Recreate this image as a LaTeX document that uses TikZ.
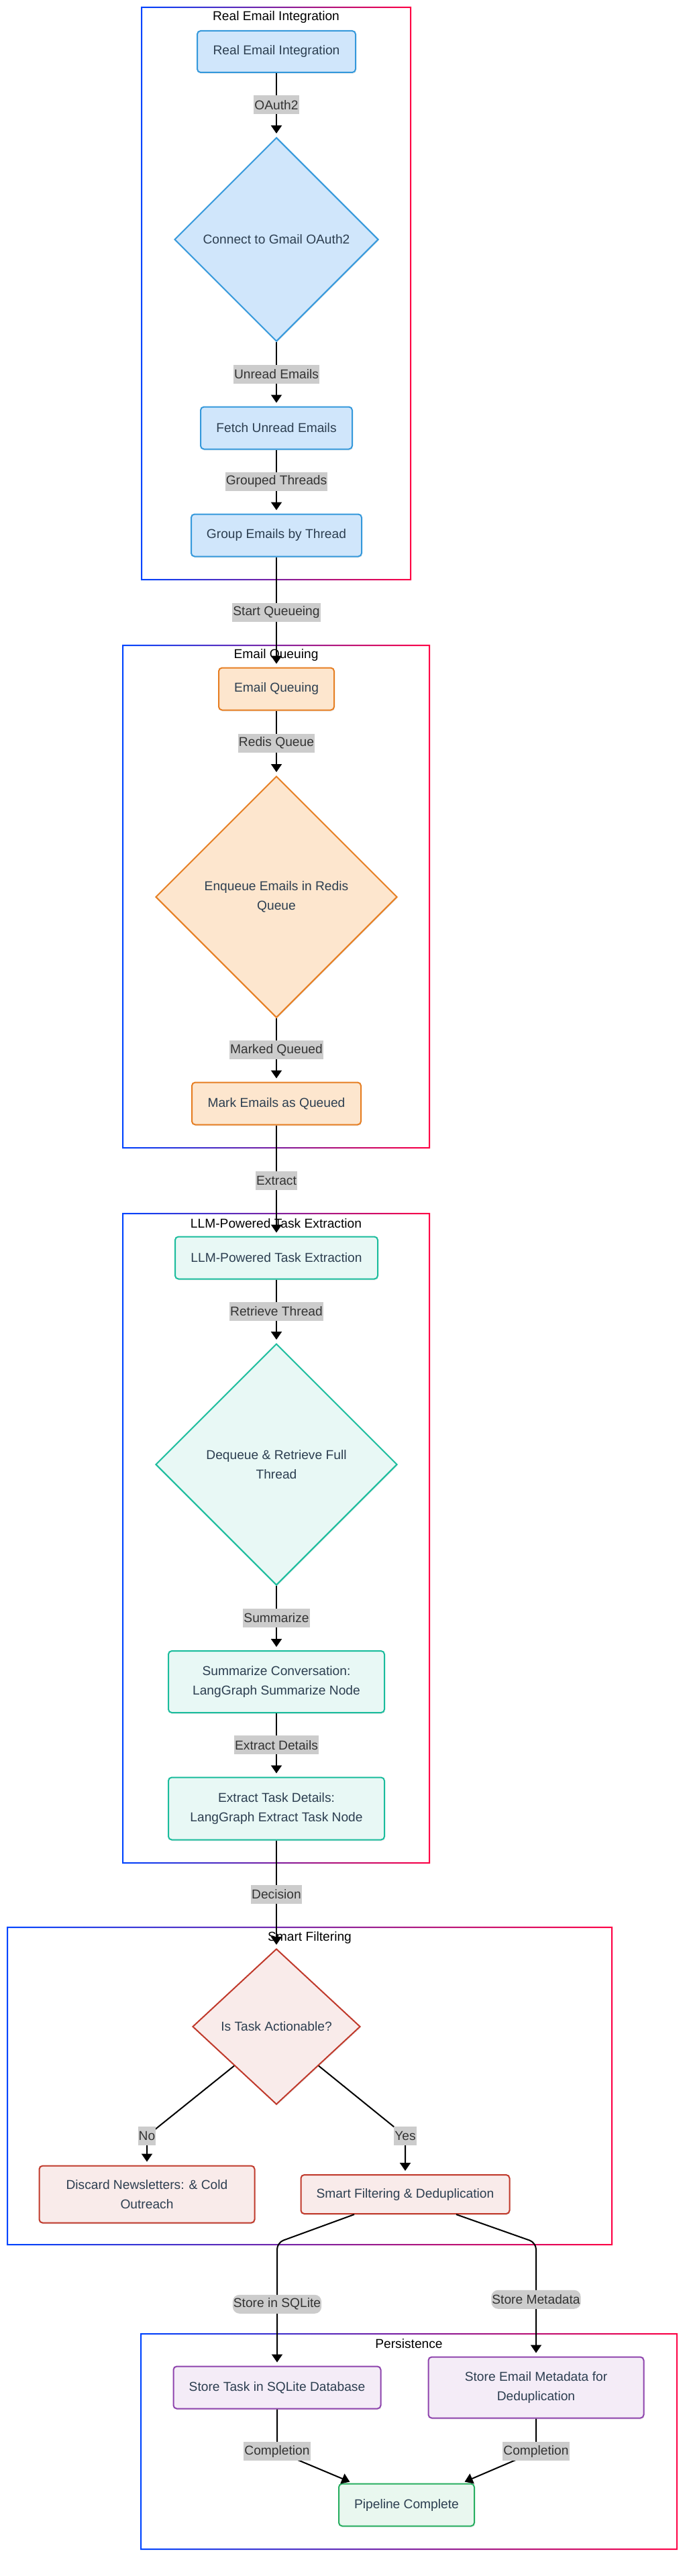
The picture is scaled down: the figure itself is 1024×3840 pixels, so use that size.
\documentclass[tikz,border=0pt]{standalone}
\usepackage{fontspec}
\setmainfont{Liberation Sans}
\usetikzlibrary{arrows.meta,shapes.geometric,shadows}

\definecolor{intakefill}{HTML}{D0E6FB}
\definecolor{intakeline}{HTML}{3498DB}
\definecolor{queuefill}{HTML}{FDE6CE}
\definecolor{queueline}{HTML}{E67E22}
\definecolor{llmfill}{HTML}{E8F8F5}
\definecolor{llmline}{HTML}{1ABC9C}
\definecolor{filterfill}{HTML}{F9EBEA}
\definecolor{filterline}{HTML}{C0392B}
\definecolor{storefill}{HTML}{F4ECF7}
\definecolor{storeline}{HTML}{8E44AD}
\definecolor{donefill}{HTML}{E9F7EF}
\definecolor{doneline}{HTML}{27AE60}
\definecolor{nodeink}{HTML}{2C3E50}
\definecolor{lblgray}{HTML}{CCCCCC}
\definecolor{lblink}{HTML}{333333}
\definecolor{frameblue}{HTML}{0044FF}
\definecolor{framered}{HTML}{FF0044}

\newcommand{\nodefont}{\fontsize{19.2}{29}\selectfont}

% gradient frame + title of one stage
\newcommand{\clusterframe}[5]{%
  \shade[left color=frameblue, right color=framered, even odd rule]
    (#1-1,#2-1) rectangle (#3+1,#4+1) (#1+1,#2+1) rectangle (#3-1,#4-1);
  \node[clustertitle] at ({(#1+#3)/2},#2+15) {#5};
}

\tikzset{
  procbox/.style={rectangle, rounded corners=5pt, draw, line width=2pt, inner sep=0pt,
    align=center, text=nodeink, font=\nodefont,
    drop shadow={opacity=0.12, shadow xshift=1pt, shadow yshift=-2pt}},
  decision/.style={diamond, draw, line width=2pt, inner sep=0pt,
    align=center, text=nodeink, font=\nodefont,
    drop shadow={opacity=0.12, shadow xshift=1pt, shadow yshift=-2pt}},
  intake/.style={fill=intakefill, draw=intakeline},
  queueing/.style={fill=queuefill, draw=queueline},
  extraction/.style={fill=llmfill, draw=llmline},
  filtering/.style={fill=filterfill, draw=filterline},
  storing/.style={fill=storefill, draw=storeline},
  finish/.style={fill=donefill, draw=doneline},
  flow/.style={line width=2pt, draw=black, -{Triangle[width=16pt,length=12pt]}, shorten >=5pt},
  lbl/.style={fill=lblgray, text=lblink, font=\nodefont, inner xsep=1pt, inner ysep=0pt,
    minimum height=28pt},
  clustertitle/.style={font=\nodefont, text=black}
}

\begin{document}
\begin{tikzpicture}[x=1pt,y=-1pt]
\fill[white] (0,0) rectangle (1024,3840);
\useasboundingbox (0,0) rectangle (1024,3840);

% stage frames
\clusterframe{211}{11}{612}{864}{Real Email Integration}
\clusterframe{183}{962}{640}{1711}{Email Queuing}
\clusterframe{183}{1809}{640}{2777}{LLM-Powered Task Extraction}
\clusterframe{11}{2873}{912}{3346}{Smart Filtering}
\clusterframe{210}{3479}{1009}{3800}{Persistence}

% Real Email Integration
\node[procbox, intake, minimum width=236pt, minimum height=62pt] (rei) at (412,77) {Real Email Integration};
\node[decision, intake, minimum width=304pt, minimum height=304pt] (gmail) at (412,357) {Connect to Gmail OAuth2};
\node[procbox, intake, minimum width=226pt, minimum height=63pt] (fetch) at (412,638) {Fetch Unread Emails};
\node[procbox, intake, minimum width=254pt, minimum height=63pt] (group) at (412,798) {Group Emails by Thread};

% Email Queuing
\node[procbox, queueing, minimum width=172pt, minimum height=63pt] (queue) at (412,1027) {Email Queuing};
\node[decision, queueing, minimum width=360pt, minimum height=360pt] (enqueue) at (412,1337) {Enqueue Emails in Redis\\Queue};
\node[procbox, queueing, minimum width=252pt, minimum height=63pt] (mark) at (412,1645) {Mark Emails as Queued};

% LLM-Powered Task Extraction
\node[procbox, extraction, minimum width=302pt, minimum height=63pt] (llm) at (412,1875) {LLM-Powered Task Extraction};
\node[decision, extraction, minimum width=360pt, minimum height=360pt] (dequeue) at (412,2183) {Dequeue \& Retrieve Full\\Thread};
\node[procbox, extraction, minimum width=322pt, minimum height=92pt] (summ) at (412,2507) {Summarize Conversation:\\LangGraph Summarize Node};
\node[procbox, extraction, minimum width=322pt, minimum height=93pt] (extract) at (412,2696) {Extract Task Details:\\LangGraph Extract Task Node};

% Smart Filtering
\node[decision, filtering, minimum width=250pt, minimum height=232pt] (act) at (412,3021) {Is Task Actionable?};
\node[procbox, filtering, minimum width=321pt, minimum height=85pt] (discard) at (219,3271) {Discard Newsletters: \& Cold\\Outreach};
\node[procbox, filtering, minimum width=311pt, minimum height=58pt] (smart) at (604,3271) {Smart Filtering \& Deduplication};

% Persistence
\node[procbox, storing, minimum width=309pt, minimum height=63pt] (sqlite) at (413,3559) {Store Task in SQLite Database};
\node[procbox, storing, minimum width=321pt, minimum height=91pt] (meta) at (799,3559) {Store Email Metadata for\\Deduplication};
\node[procbox, finish, minimum width=202pt, minimum height=63pt] (done) at (606,3734) {Pipeline Complete};

% connectors
\draw[flow] (rei) -- node[lbl]{OAuth2} (gmail);
\draw[flow] (gmail) -- node[lbl]{Unread Emails} (fetch);
\draw[flow] (fetch) -- node[lbl]{Grouped Threads} (group);
\draw[flow] (group) -- node[lbl]{Start Queueing} (queue);
\draw[flow] (queue) -- node[lbl]{Redis Queue} (enqueue);
\draw[flow] (enqueue) -- node[lbl]{Marked Queued} (mark);
\draw[flow] (mark) -- node[lbl]{Extract} (llm);
\draw[flow] (llm) -- node[lbl]{Retrieve Thread} (dequeue);
\draw[flow] (dequeue) -- node[lbl]{Summarize} (summ);
\draw[flow] (summ) -- node[lbl]{Extract Details} (extract);
\draw[flow] (extract) -- node[lbl]{Decision} (act);
\draw[flow] (act.south west) -- (219,3184) node[lbl]{No} -- (discard);
\draw[flow] (act.south east) -- (604,3184) node[lbl]{Yes} -- (smart);
\draw[flow, rounded corners=10pt] ([xshift=-76pt]smart.south) -- (413,3343) -- node[lbl]{Store in SQLite} (sqlite);
\draw[flow, rounded corners=10pt] ([xshift=76pt]smart.south) -- (799,3343) -- node[lbl]{Store Metadata} (meta);
\draw[flow] (sqlite) -- (413,3654) node[lbl]{Completion} -- ([xshift=-80pt]done.north);
\draw[flow] (meta) -- (799,3654) node[lbl]{Completion} -- ([xshift=82pt]done.north);
\end{tikzpicture}
\end{document}
